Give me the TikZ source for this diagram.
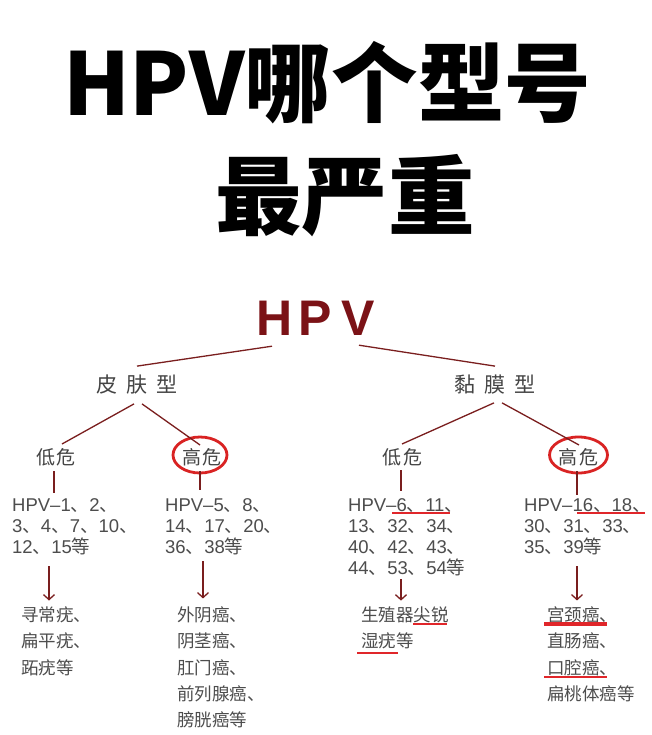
\documentclass[tikz,border=0pt]{standalone}
\usepackage{fontspec}
\setmainfont{Liberation Sans}
\newfontfamily\cjk{Noto Sans CJK SC}
\usetikzlibrary{arrows.meta,calc}
\newcommand\dhao{{\cjk 、}}
\newcommand\zh[1]{{\cjk #1}}
\definecolor{linered}{HTML}{7A1E1E}
\definecolor{hpvred}{HTML}{7B1216}
\definecolor{circred}{HTML}{D92323}
\definecolor{ulred}{HTML}{E0262A}
\definecolor{txtgray}{HTML}{4D4D4D}
\definecolor{typgray}{HTML}{444444}
\tikzset{
  titletxt/.style={font=\cjk\bfseries\fontsize{86.5}{86.5}\selectfont, text=black, inner sep=0, anchor=base},
  hpvtxt/.style={font=\bfseries\fontsize{50}{50}\selectfont, text=hpvred, inner sep=0, anchor=base west},
  typtxt/.style={font=\cjk\fontsize{21}{21}\selectfont, text=typgray, inner xsep=0, inner ysep=9pt},
  lvl/.style={font=\cjk\fontsize{19}{19}\selectfont, text=typgray, inner xsep=0, inner ysep=4pt},
  numtxt/.style={font=\fontsize{18.5}{21}\selectfont, text=txtgray, align=left, inner sep=0, anchor=base west},
  distxt/.style={font=\cjk\fontsize{17.5}{26.3}\selectfont, text=txtgray, align=left, inner sep=0, anchor=base west},
  conn/.style={draw=linered, line width=1.3pt},
  arr/.style={conn, -{Straight Barb[length=5pt,width=11pt]}},
  circ/.style={draw=circred, line width=2.8pt},
  ul/.style={draw=ulred, line width=2pt}
}
\begin{document}
\begin{tikzpicture}[x=1pt,y=-1pt]
\useasboundingbox (0,0) rectangle (651,735);
\fill[white] (0,0) rectangle (651,735);
% titles
\node[titletxt] (t1) at (327,116) {HPV哪个型号};
\node[titletxt] (t2) at (345,228) {最严重};
% HPV root
\node[hpvtxt] (hpv) at (256,335) {H\hspace{6pt}P\hspace{9.5pt}V};
% types
\node[typtxt] (skin) at (137,385) {皮\hspace{9pt}肤\hspace{9pt}型};
\node[typtxt] (muc) at (495,385) {黏\hspace{9pt}膜\hspace{9pt}型};
% levels
\node[lvl] (low1) at (56,457) {低\hspace{2pt}危};
\node[lvl] (high1) at (202,457) {高\hspace{2pt}危};
\node[lvl] (low2) at (402,457) {低\hspace{2pt}危};
\node[lvl] (high2) at (578,457) {高\hspace{2pt}危};
\draw[circ] ($(high1)+(-2,-2)$) ellipse [x radius=27, y radius=18];
\draw[circ] ($(high2)+(0.5,-2)$) ellipse [x radius=29, y radius=18];
% number blocks (anchor = baseline of last line)
\node[numtxt] (b1) at (12,553.5) {HPV–1\dhao 2\dhao\\3\dhao 4\dhao 7\dhao 10\dhao\\12\dhao 15\zh{等}};
\node[numtxt] (b2) at (165,553.5) {HPV–5\dhao 8\dhao\\14\dhao 17\dhao 20\dhao\\36\dhao 38\zh{等}};
\node[numtxt] (b3) at (348,574.5) {HPV–6\dhao 11\dhao\\13\dhao 32\dhao 34\dhao\\40\dhao 42\dhao 43\dhao\\44\dhao 53\dhao 54\zh{等}};
\node[numtxt] (b4) at (524,553.5) {HPV–16\dhao 18\dhao\\30\dhao 31\dhao 33\dhao\\35\dhao 39\zh{等}};
% disease blocks
\node[distxt] (d1) at (21,674.1) {寻常疣、\\扁平疣、\\跖疣等};
\node[distxt] (d2) at (177,726.7) {外阴癌、\\阴茎癌、\\肛门癌、\\前列腺癌、\\膀胱癌等};
\node[distxt] (d3) at (361,647.8) {生殖器尖锐\\湿疣等};
\node[distxt] (d4) at (547,700.4) {宫颈癌、\\直肠癌、\\口腔癌、\\扁桃体癌等};
% connectors
\draw[conn] ($(hpv.south west)+(16,11)$) -- (skin.north);
\draw[conn] ($(hpv.south west)+(103,10)$) -- (muc.north);
\draw[conn] ($(skin.south)+(-3,0)$) -- ($(low1.north)+(6,0)$);
\draw[conn] ($(skin.south)+(5,0)$) -- ($(high1.north)+(-2,1)$);
\draw[conn] ($(muc.south)+(-1,-1)$) -- (low2.north);
\draw[conn] ($(muc.south)+(7,-1)$) -- ($(high2.north)+(1,1)$);
\draw[conn] ($(low1.south)+(-2,1)$) -- ($(low1.south |- b1.north)+(-2,-5)$);
\draw[conn] ($(high1.south)+(-2,1)$) -- ($(high1.south |- b2.north)+(-2,-8)$);
\draw[conn] ($(low2.south)+(-1,0)$) -- ($(low2.south |- b3.north)+(-1,-7)$);
\draw[conn] ($(high2.south)+(-1,1)$) -- ($(high2.south |- b4.north)+(-1,-3)$);
\draw[arr] ($(b1.south west)+(37,11)$) -- ($(d1.north west)+(28,-6)$);
\draw[arr] ($(b2.south west)+(38,6)$) -- ($(d2.north west)+(26,-8)$);
\draw[arr] ($(b3.south west)+(53,3)$) -- ($(d3.north west)+(40,-6)$);
\draw[arr] ($(b4.south west)+(53,11)$) -- ($(d4.north west)+(30,-6)$);
% red underlines
\draw[ul] (392,512.5) -- (450,512.5);
\draw[ul] (577,513) -- (645,513);
\draw[ul] (413,624) -- (447,624);
\draw[ul] (357,653) -- (398,653);
\draw[ul, line width=3.2pt] (544,624) -- (607,624);
\draw[ul] (544,677) -- (607,677);
\end{tikzpicture}
\end{document}
